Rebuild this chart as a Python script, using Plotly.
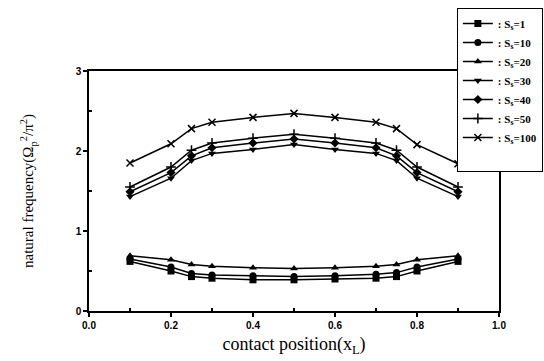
import plotly.graph_objects as go

positions = [0.1, 0.2, 0.25, 0.3, 0.4, 0.5, 0.6, 0.7, 0.75, 0.8, 0.9]
s1 = [0.62, 0.50, 0.43, 0.41, 0.39, 0.39, 0.40, 0.41, 0.43, 0.50, 0.62]
s10 = [0.65, 0.55, 0.47, 0.45, 0.44, 0.43, 0.44, 0.46, 0.48, 0.55, 0.65]
s20 = [0.69, 0.64, 0.58, 0.56, 0.54, 0.53, 0.54, 0.56, 0.58, 0.64, 0.69]
s30 = [1.43, 1.66, 1.88, 1.97, 2.02, 2.08, 2.02, 1.97, 1.88, 1.66, 1.43]
s40 = [1.49, 1.73, 1.94, 2.04, 2.10, 2.15, 2.10, 2.04, 1.94, 1.73, 1.49]
s50 = [1.55, 1.80, 2.01, 2.10, 2.16, 2.21, 2.16, 2.10, 2.01, 1.80, 1.55]
s100 = [1.85, 2.09, 2.28, 2.36, 2.42, 2.47, 2.42, 2.36, 2.28, 2.08, 1.84]

series = [
    ("1", s1, "square"),
    ("10", s10, "circle"),
    ("20", s20, "triangle-up"),
    ("30", s30, "triangle-down"),
    ("40", s40, "diamond"),
    ("50", s50, "cross-thin"),
    ("100", s100, "x-thin"),
]

fig = go.Figure()
for label, vals, sym in series:
    thin = sym.endswith("-thin")
    fig.add_trace(go.Scatter(
        x=positions, y=vals, mode="lines+markers",
        name=": S<sub>s</sub>=" + label,
        line=dict(color="black", width=1.5),
        marker=dict(symbol=sym, size=7, color="black",
                    line=dict(color="black", width=1.5 if thin else 0)),
    ))
# blank legend padding entry
fig.add_trace(go.Scatter(x=[None], y=[None], mode="lines", name=" ",
                         line=dict(color="rgba(0,0,0,0)", width=0),
                         hoverinfo="skip"))

axis_common = dict(
    showline=True, linecolor="black", linewidth=1.5, mirror=True,
    ticks="outside", ticklen=4, tickwidth=1.5, tickcolor="black",
    showgrid=False, zeroline=False,
    tickfont=dict(family="Liberation Sans", size=10, color="black", weight="bold"),
)

fig.update_xaxes(range=[0, 1], tickvals=[0, 0.2, 0.4, 0.6, 0.8, 1.0],
                 ticktext=["0.0", "0.2", "0.4", "0.6", "0.8", "1.0"],
                 minor=dict(tickvals=[0.1, 0.3, 0.5, 0.7, 0.9], ticks="inside",
                            ticklen=3, tickcolor="black"),
                 title=dict(text="contact position(x<sub>L</sub>)",
                            font=dict(family="Liberation Serif", size=18, color="black"),
                            standoff=8),
                 **axis_common)
fig.update_yaxes(range=[0, 3], tickvals=[0, 1, 2, 3],
                 minor=dict(tickvals=[0.5, 1.5, 2.5], ticks="inside",
                            ticklen=3, tickcolor="black"),
                 title=dict(text="natural frequency(Ω<sub>p</sub><sup>2</sup>/π<sup>2</sup>)",
                            font=dict(family="Liberation Serif", size=15, color="black"),
                            standoff=38),
                 **axis_common)

fig.update_layout(
    width=544, height=361,
    margin=dict(l=89, r=45, t=71, b=50, autoexpand=False),
    plot_bgcolor="white", paper_bgcolor="white",
    showlegend=True,
    legend=dict(x=1.107, y=1.2625, xanchor="right", yanchor="top",
                bgcolor="white", bordercolor="black", borderwidth=1,
                font=dict(family="Liberation Serif", size=11, color="black", weight="bold"),
                itemwidth=30, tracegroupgap=0),
)

fig.write_html("out.html", config={"displayModeBar": False},
               post_script="document.body.style.margin='0';")
